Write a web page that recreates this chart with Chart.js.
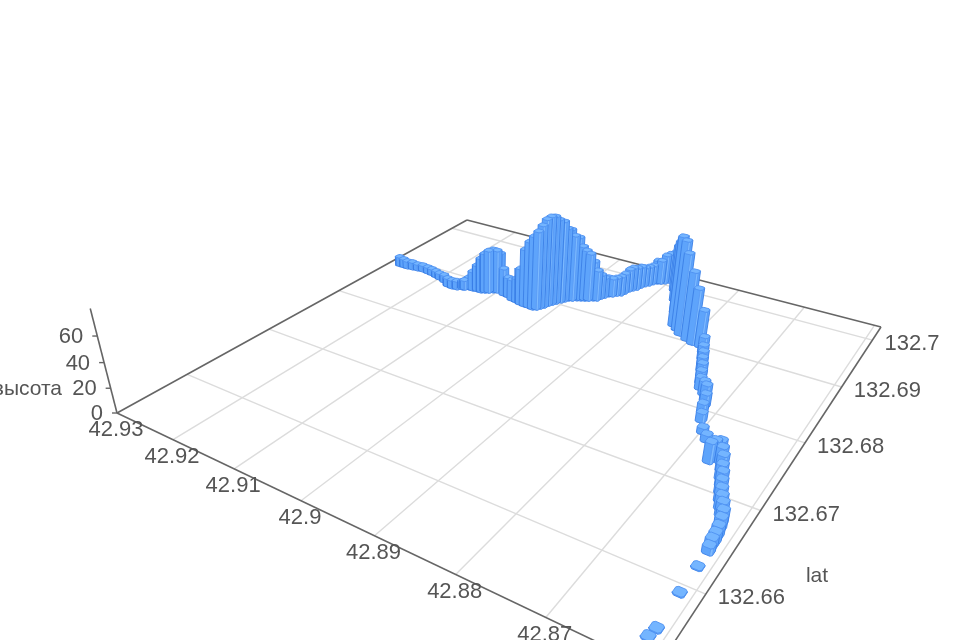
<!DOCTYPE html>
<html lang="ru">
<head>
<meta charset="UTF-8">
<title>3D bars</title>
<script src="https://cdn.jsdelivr.net/npm/chart.js"></script>
<style>
  body { margin: 0; background: #fff; }
  #wrap { width: 960px; height: 640px; overflow: hidden; }
  canvas { filter: blur(0.5px); }
</style>
</head>
<body>
<div id="wrap"><canvas id="myChart" width="960" height="640"></canvas></div>
<script>
const lonTicks = [42.93, 42.92, 42.91, 42.9, 42.89, 42.88, 42.87];
const lonGrid = [42.92, 42.91, 42.9, 42.89, 42.88, 42.87, 42.86];
const latTicks = [132.66, 132.67, 132.68, 132.69, 132.7];
const zTicks = [0, 20, 40, 60];

const lon = [
  42.9281, 42.9273, 42.9266, 42.9257, 42.9248, 42.9239, 42.9228, 42.9219, 42.9209, 42.9200, 42.9188, 42.9175, 42.9166, 42.9158,
  42.9151, 42.9148, 42.9143, 42.9136, 42.9129, 42.9122, 42.9117, 42.9112, 42.9107, 42.9102, 42.9098, 42.9088, 42.9079, 42.9069,
  42.9060, 42.9052, 42.9044, 42.9037, 42.9029, 42.9024, 42.9021, 42.9018, 42.9016, 42.9013, 42.9010, 42.9006, 42.9003, 42.9000,
  42.8995, 42.8990, 42.8985, 42.8980, 42.8975, 42.8970, 42.8965, 42.8963, 42.8960, 42.8957, 42.8952, 42.8948, 42.8943, 42.8941,
  42.8939, 42.8936, 42.8932, 42.8930, 42.8927, 42.8923, 42.8920, 42.8916, 42.8911, 42.8906, 42.8902, 42.8897, 42.8893, 42.8882,
  42.8868, 42.8852, 42.8837, 42.8828, 42.8819, 42.8805, 42.8794, 42.8782, 42.8772, 42.8766, 42.8760, 42.8755, 42.8749, 42.8744,
  42.8739, 42.8730, 42.8723, 42.8718, 42.8715, 42.8709, 42.8698, 42.8688, 42.8670, 42.8668, 42.8664, 42.8658, 42.8652, 42.8647,
  42.8642, 42.8638, 42.8633, 42.8628, 42.8623, 42.8618, 42.8616, 42.8614, 42.8613, 42.8613, 42.8612, 42.8612, 42.8612, 42.8611,
  42.8613
];
const lat = [
  132.6885, 132.6885, 132.6885, 132.6886, 132.6887, 132.6888, 132.6887, 132.6886, 132.6884, 132.6882, 132.6879, 132.6873, 132.6872, 132.6873,
  132.6876, 132.6877, 132.6880, 132.6880, 132.6881, 132.6881, 132.6883, 132.6885, 132.6888, 132.6890, 132.6892, 132.6888, 132.6887, 132.6883,
  132.6882, 132.6880, 132.6879, 132.6879, 132.6878, 132.6880, 132.6884, 132.6888, 132.6894, 132.6898, 132.6902, 132.6907, 132.6911, 132.6915,
  132.6917, 132.6920, 132.6922, 132.6924, 132.6926, 132.6929, 132.6931, 132.6937, 132.6941, 132.6946, 132.6948, 132.6952, 132.6955, 132.6961,
  132.6968, 132.6972, 132.6976, 132.6983, 132.6988, 132.6992, 132.6997, 132.7001, 132.7003, 132.7006, 132.7010, 132.7013, 132.7015, 132.6994,
  132.6973, 132.6949, 132.6923, 132.6917, 132.6910, 132.6904, 132.6900, 132.6899, 132.6890, 132.6879, 132.6869, 132.6859, 132.6849, 132.6839,
  132.6830, 132.6823, 132.6815, 132.6806, 132.6796, 132.6784, 132.6769, 132.6760, 132.6735, 132.6742, 132.6747, 132.6739, 132.6730, 132.6720,
  132.6712, 132.6704, 132.6695, 132.6687, 132.6680, 132.6672, 132.6666, 132.6658, 132.6651, 132.6645, 132.6639, 132.6621, 132.6592, 132.6556,
  132.6547
];
const height = [
  8.3, 7.4, 6.4, 6.4, 5.4, 5.4, 5.4, 5.4, 5.4, 5.3, 6.3, 7.2, 7.2, 7.2, 7.2, 8.1, 10.4, 16.9, 23.3, 30.6,
  35.1, 37.8, 38.7, 37.8, 35.1, 24.1, 17.6, 18.5, 21.2, 31.9, 50.1, 57.7, 63.6, 67.9, 72.2, 76.6, 77.5, 76.8, 73.5, 71.1,
  64.4, 62.7, 57.5, 55.8, 48.0, 44.5, 41.8, 34.7, 26.7, 21.3, 17.7, 16.8, 15.9, 15.9, 16.8, 17.8, 19.7, 20.6, 19.8, 18.9,
  17.0, 17.0, 17.0, 20.8, 20.8, 25.5, 26.4, 27.4, 27.4, 41.5, 53.2, 65.0, 76.2, 75.8, 68.9, 57.9, 47.0, 31.1, 13.7, 11.9,
  11.8, 11.7, 11.7, 10.8, 9.9, 11.5, 13.1, 10.6, 8.1, 7.2, 4.7, 5.5, 15.6, 14.1, 12.5, 12.5, 12.4, 11.6, 11.5, 10.7,
  10.6, 10.6, 10.6, 10.5, 9.0, 8.2, 7.5, 6.7, 5.2, 0.7, 0.7, 0.7, 0.7
];

// camera: floor corners on screen -> homography, vertical axes run to a vanishing point
const P = [[117, 413], [656, 670], [881, 327], [467, 220]];
const dx1 = P[1][0] - P[2][0], dx2 = P[3][0] - P[2][0], sx = P[0][0] - P[1][0] + P[2][0] - P[3][0];
const dy1 = P[1][1] - P[2][1], dy2 = P[3][1] - P[2][1], sy = P[0][1] - P[1][1] + P[2][1] - P[3][1];
const det = dx1 * dy2 - dx2 * dy1;
const g = (sx * dy2 - dx2 * sy) / det, h = (dx1 * sy - sx * dy1) / det;
const LON0 = 42.93, LON_SPAN = 0.0709, LAT0 = 132.6526, LAT_SPAN = 0.0505;
const J = -0.000858, VX = 480, VY = 1831;
const HALF = 0.0082, BEVEL = 0.003; // bar footprint, floor units

function project(u, v, z) {
  const w = g * u + h * v + 1;
  const X = (P[1][0] - P[0][0] + g * P[1][0]) * u + (P[3][0] - P[0][0] + h * P[3][0]) * v + P[0][0];
  const Y = (P[1][1] - P[0][1] + g * P[1][1]) * u + (P[3][1] - P[0][1] + h * P[3][1]) * v + P[0][1];
  const k = J * z;
  return { x: (X + VX * k) / (w + k), y: (Y + VY * k) / (w + k) };
}
const toU = l => (LON0 - l) / LON_SPAN;
const toV = l => (l - LAT0) / LAT_SPAN;

const datasets = [];
function face(pts, fill, border) {
  datasets.push({ data: pts, borderColor: border, backgroundColor: fill, borderWidth: 0.9, fill: 'shape', pointRadius: 0, tension: 0 });
}
function line(pts, color, width) {
  datasets.push({ data: pts, borderColor: color, borderWidth: width, fill: false, pointRadius: 0, tension: 0 });
}

// nearest bar first: chart.js paints the first dataset last
const order = lon.map((_, i) => i).sort((a, b) =>
  (g * toU(lon[a]) + h * toV(lat[a])) - (g * toU(lon[b]) + h * toV(lat[b])));
order.forEach(i => {
  const u = toU(lon[i]), v = toV(lat[i]), z = height[i];
  const s = HALF, c = s - BEVEL;
  const foot = [[u - s, v - c], [u - c, v - s], [u + c, v - s], [u + s, v - c], [u + s, v + c], [u + c, v + s], [u - c, v + s], [u - s, v + c]];
  const up = foot.map(p => project(p[0], p[1], z)), dn = foot.map(p => project(p[0], p[1], 0));
  face([...up, up[0]], '#74b5ff', '#4f92f2');
  face([dn[2], dn[3], up[3], up[2], dn[2]], '#7dbbff', '#5a9bf5');
  face([dn[0], dn[1], dn[2], dn[3], dn[4], up[4], up[0], dn[0]], '#5ea4fb', '#3a7fe6');
});

const AXIS = '#666', GRID = '#dcdcdc';
line([project(0, 0, 0), project(1, 0, 0)], AXIS, 1.6);
line([project(0, 0, 0), project(0, 1, 0)], AXIS, 1.6);
line([project(0, 1, 0), project(1, 1, 0)], AXIS, 1.6);
line([project(1, 0, 0), project(1, 1, 0)], AXIS, 1.6);
line([project(0, 0, 0), project(0, 0, 80)], AXIS, 1.6);
zTicks.forEach(t => {
  const p = project(0, 0, t);
  line([p, { x: p.x - 5, y: p.y }], AXIS, 1.4);
});
lonGrid.forEach(t => line([project(toU(t), 0, 0), project(toU(t), 1, 0)], GRID, 1.4));
latTicks.forEach(t => line([project(0, toV(t), 0), project(1, toV(t), 0)], GRID, 1.4));

const axisLabels = {
  id: 'axisLabels',
  afterDatasetsDraw(chart) {
    const { ctx, scales: { x, y } } = chart;
    const put = (p, dx, dy, text, align) => {
      ctx.textAlign = align;
      ctx.fillText(text, x.getPixelForValue(p.x) + dx, y.getPixelForValue(p.y) + dy);
    };
    ctx.save();
    ctx.font = '22px "Liberation Sans"';
    ctx.fillStyle = '#555';
    ctx.textBaseline = 'middle';
    lonTicks.forEach(t => put(project(toU(t), 0, 0), -1, 17, String(t), 'center'));
    latTicks.forEach(t => put(project(1, toV(t), 0), 12, 4, String(t), 'left'));
    zTicks.forEach(t => put(project(0, 0, t), -14, 1, String(t), 'right'));
    ctx.font = '21px "Liberation Sans"';
    ctx.textAlign = 'right';
    ctx.fillText('высота', 62, 389);
    ctx.textAlign = 'center';
    ctx.fillText('lat', 817, 576);
    ctx.restore();
  }
};

new Chart(document.getElementById('myChart'), {
  type: 'line',
  data: { datasets: datasets },
  plugins: [axisLabels],
  options: {
    responsive: false,
    animation: false,
    parsing: false,
    normalized: false,
    layout: { padding: 0 },
    plugins: { legend: { display: false }, tooltip: { enabled: false }, title: { display: false } },
    scales: {
      x: { type: 'linear', min: 0, max: 960, display: false },
      y: { type: 'linear', min: 0, max: 640, reverse: true, display: false }
    }
  }
});
</script>
</body>
</html>
